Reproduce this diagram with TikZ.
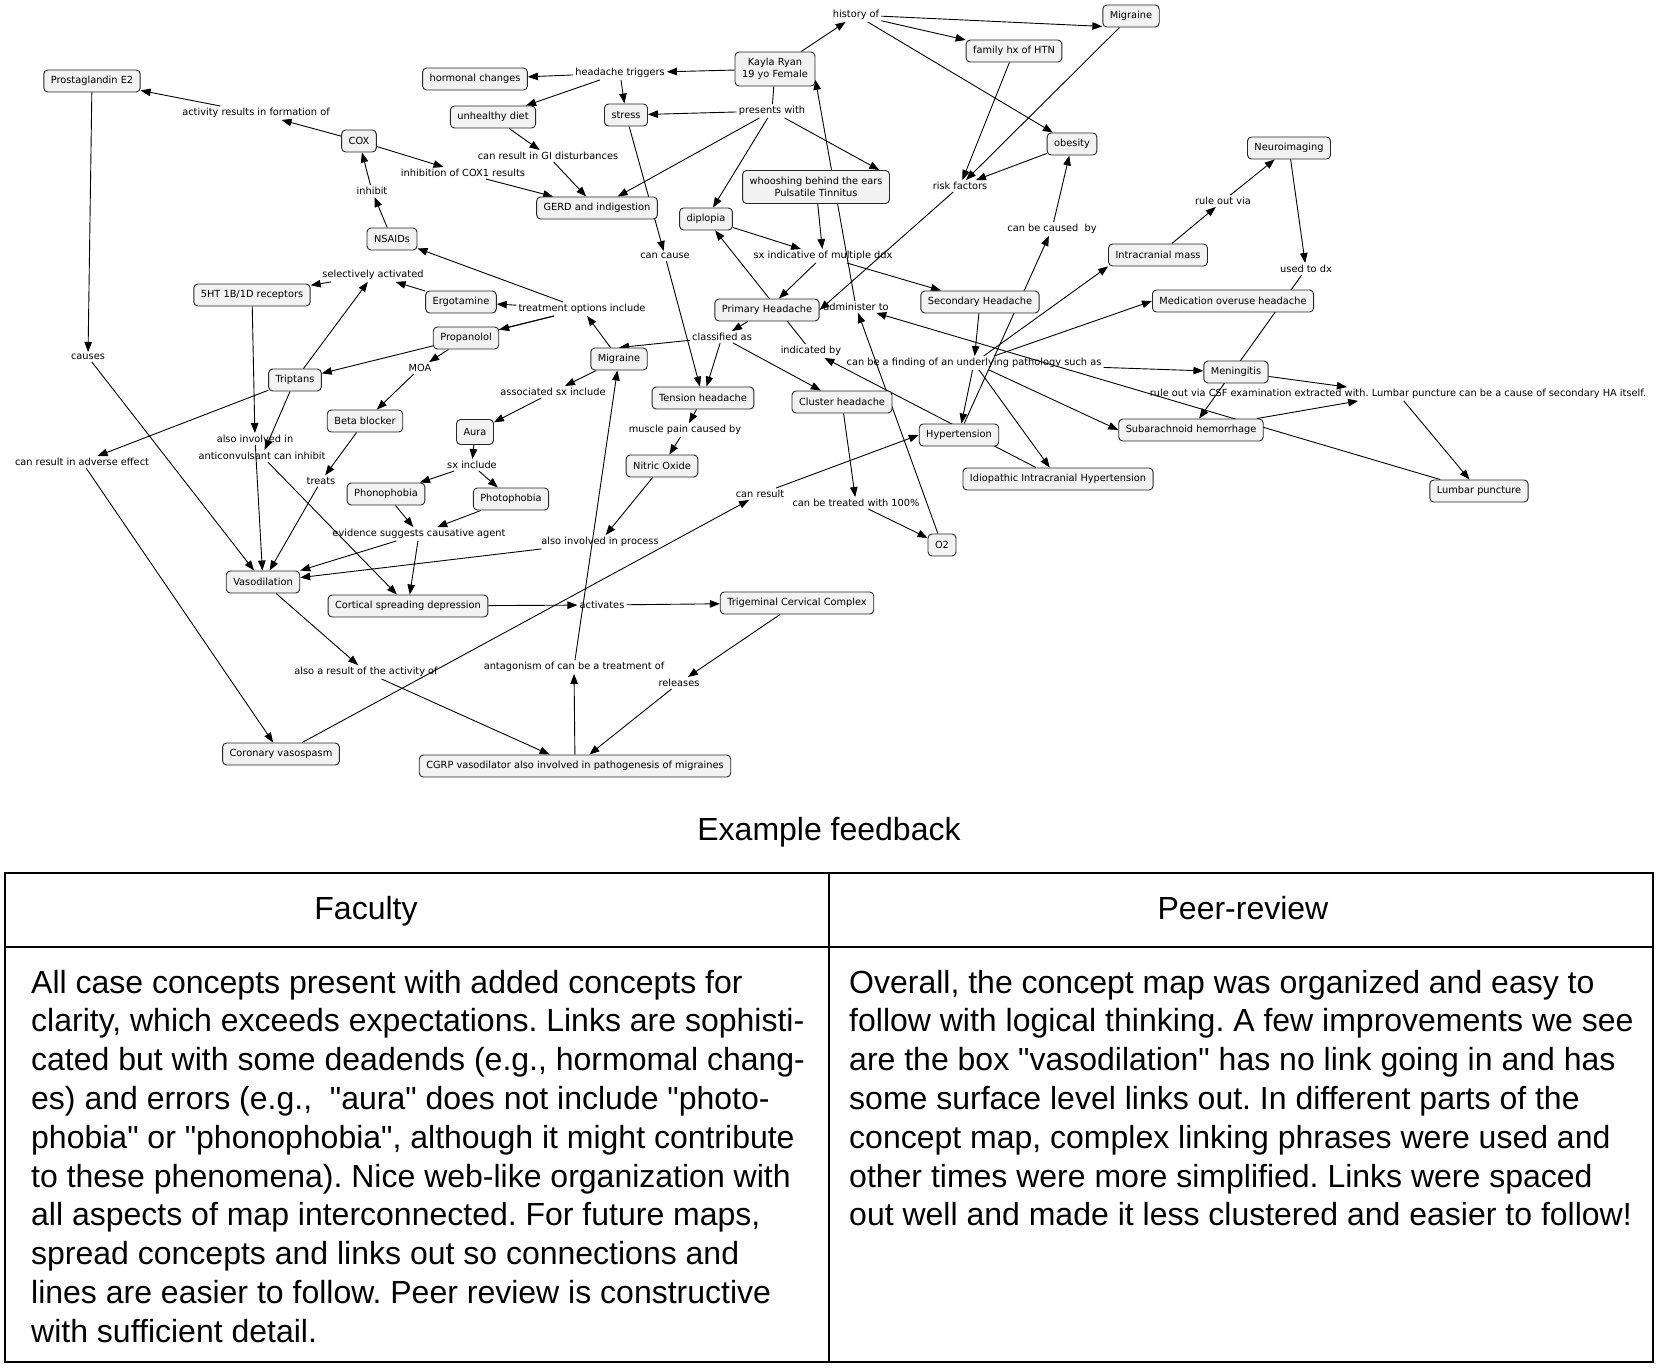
\documentclass[tikz,border=0pt]{standalone}
\usepackage{fontspec}
\setmainfont{Liberation Sans}[Ligatures=TeXOff]
\newfontfamily\mapfont{DejaVu Sans}
\usetikzlibrary{arrows.meta,backgrounds}
\frenchspacing

\tikzset{
  concept/.style={draw=black!85, fill=black!5, rounded corners=4pt, line width=0.9pt,
    inner xsep=7pt, inner ysep=0pt, minimum height=22pt, align=center,
    font=\mapfont\fontsize{9.8}{12.5}\selectfont},
  phrase/.style={inner sep=2pt, font=\mapfont\fontsize{9.8}{12.5}\selectfont},
  link/.style={-{Triangle[length=10pt,width=7.5pt]}, line width=0.9pt},
  plainlink/.style={line width=0.9pt},
  tabletext/.style={inner sep=0pt, font=\fontsize{32}{39}\selectfont}
}

\begin{document}
\begin{tikzpicture}[x=1pt,y=-1pt]
\useasboundingbox (0,0) rectangle (1660,1372);

  %Concepts
  \node[concept] (pge2) at (92,81) {Prostaglandin E2};
  \node[concept] (cox) at (359,141) {COX};
  \node[concept] (nsaids) at (392,239) {NSAIDs};
  \node[concept] (ht) at (252,295) {5HT 1B/1D receptors};
  \node[concept] (triptans) at (295,380) {Triptans};
  \node[concept] (ergot) at (461,302) {Ergotamine};
  \node[concept] (propan) at (466,338) {Propanolol};
  \node[concept] (beta) at (365,421) {Beta blocker};
  \node[concept] (hormonal) at (475,79) {hormonal changes};
  \node[concept] (diet) at (493,117) {unhealthy diet};
  \node[concept] (stress) at (626,115) {stress};
  \node[concept, minimum height=34pt] (kayla) at (775,69) {Kayla Ryan\\19 yo Female};
  \node[concept] (gerd) at (597,208) {GERD and indigestion};
  \node[concept, minimum height=33pt] (whoosh) at (816,187) {whooshing behind the ears\\Pulsatile Tinnitus};
  \node[concept] (diplopia) at (706,219) {diplopia};
  \node[concept] (migtop) at (1131,16) {Migraine};
  \node[concept] (famhx) at (1014,51) {family hx of HTN};
  \node[concept] (obesity) at (1072,144) {obesity};
  \node[concept] (primary) at (767,310) {Primary Headache};
  \node[concept] (secondary) at (980,302) {Secondary Headache};
  \node[concept] (migraine) at (619,359) {Migraine};
  \node[concept] (tension) at (703,398) {Tension headache};
  \node[concept] (cluster) at (842,402) {Cluster headache};
  \node[concept, minimum height=25pt] (aura) at (475,432) {Aura};
  \node[concept] (phono) at (386,494) {Phonophobia};
  \node[concept] (photo) at (511,499) {Photophobia};
  \node[concept] (nitric) at (662,466) {Nitric Oxide};
  \node[concept] (vaso) at (263,582) {Vasodilation};
  \node[concept] (csd) at (408,606) {Cortical spreading depression};
  \node[concept] (tcc) at (797,603) {Trigeminal Cervical Complex};
  \node[concept] (cgrp) at (575,766) {CGRP vasodilator also involved in pathogenesis of migraines};
  \node[concept] (coronary) at (281,754) {Coronary vasospasm};
  \node[concept] (o2) at (942,545) {O2};
  \node[concept] (hyper) at (959,435) {Hypertension};
  \node[concept] (iih) at (1058,479) {Idiopathic Intracranial Hypertension};
  \node[concept] (mass) at (1158,255) {Intracranial mass};
  \node[concept] (neuro) at (1289,148) {Neuroimaging};
  \node[concept] (moh) at (1233,301) {Medication overuse headache};
  \node[concept] (mening) at (1236,372) {Meningitis};
  \node[concept] (sah) at (1191,430) {Subarachnoid hemorrhage};
  \node[concept] (lumbar) at (1479,491) {Lumbar puncture};

  %Linking phrases
  \node[phrase] (lhistory) at (856,15) {history of};
  \node[phrase] (lrisk) at (960,186) {risk factors};
  \node[phrase] (ltriggers) at (620,73) {headache triggers};
  \node[phrase] (lpresents) at (772,111) {presents with};
  \node[phrase] (lgi) at (548,156) {can result in GI disturbances};
  \node[phrase] (lcoxone) at (463,173) {inhibition of COX1 results};
  \node[phrase] (lactivity) at (256,113) {activity results in formation of};
  \node[phrase] (linhibit) at (372,191) {inhibit};
  \node[phrase] (lcauses) at (88,357) {causes};
  \node[phrase] (lselective) at (373,275) {selectively activated};
  \node[phrase] (ltreatment) at (582,309) {treatment options include};
  \node[phrase] (lmoa) at (420,368) {MOA};
  \node[phrase] (ltreats) at (321,481) {treats};
  \node[phrase] (lalsoin) at (255,439) {also involved in};
  \node[phrase] (lanticonv) at (262,456) {anticonvulsant can inhibit};
  \node[phrase] (ladverse) at (82,462) {can result in adverse effect};
  \node[phrase] (lassoc) at (553,392) {associated sx include};
  \node[phrase] (lsxinc) at (472,465) {sx include};
  \node[phrase] (levidence) at (419,534) {evidence suggests causative agent};
  \node[phrase] (lprocess) at (600,542) {also involved in process};
  \node[phrase] (lmuscle) at (685,430) {muscle pain caused by};
  \node[phrase] (lactivates) at (602,605) {activates};
  \node[phrase] (lreleases) at (679,683) {releases};
  \node[phrase] (lantag) at (574,667) {antagonism of can be a treatment of};
  \node[phrase] (lresultact) at (366,672) {also a result of the activity of};
  \node[phrase] (lcanresult) at (760,494) {can result};
  \node[phrase] (ltreated) at (856,503) {can be treated with 100\%};
  \node[phrase] (lcancause) at (665,256) {can cause};
  \node[phrase] (lsxind) at (823,256) {sx indicative of multiple ddx};
  \node[phrase] (lclassified) at (722,337) {classified as};
  \node[phrase] (lindicated) at (811,351) {indicated by};
  \node[phrase] (ladmin) at (856,307) {administer to};
  \node[phrase] (lcaused) at (1052,229) {can be caused\ \ by};
  \node[phrase] (lfinding) at (974,363) {can be a finding of an underlying pathology such as};
  \node[phrase] (lruleout) at (1223,201) {rule out via};
  \node[phrase] (lusedtodx) at (1306,269) {used to dx};
  \node[phrase] (lcsf) at (1398,394) {rule out via CSF examination extracted with. Lumbar puncture can be a cause of secondary HA itself.};

  %Links (under the boxes)
  \begin{scope}[on background layer]
    \foreach \a/\b in {kayla/lhistory, lhistory/famhx, lhistory/obesity,
      famhx/lrisk, migtop/lrisk, obesity/lrisk, kayla/ltriggers, ltriggers/hormonal,
      ltriggers/diet, ltriggers/stress, lpresents/stress, lpresents/gerd, lpresents/diplopia,
      lumbar/ladmin, whoosh/lsxind, diplopia/lsxind, lsxind/primary, lsxind/secondary,
      iih/lindicated, lindicated/diplopia, primary/lclassified, lclassified/tension,
      lclassified/cluster, stress/lcancause, lcancause/tension, diet/lgi, lgi/gerd,
      cox/lcoxone, lcoxone/gerd, cox/lactivity, lactivity/pge2, nsaids/linhibit, linhibit/cox,
      pge2/lcauses, lcauses/vaso, ltreatment/nsaids, ltreatment/ergot, ltreatment/propan,
      ltreatment/triptans, migraine/ltreatment, ergot/lselective, lselective/ht,
      triptans/lselective, propan/lmoa, lmoa/beta, beta/ltreats, ltreats/vaso, ht/lalsoin,
      lalsoin/vaso, triptans/lanticonv, lanticonv/csd, triptans/ladverse, ladverse/coronary,
      aura/lsxinc, lsxinc/phono, lsxinc/photo, migraine/lassoc, lassoc/aura, phono/levidence,
      photo/levidence, levidence/vaso, levidence/csd, nitric/lprocess, lprocess/vaso,
      tension/lmuscle, lmuscle/nitric, csd/lactivates, lactivates/tcc, tcc/lreleases,
      lreleases/cgrp, cgrp/lantag, lantag/migraine, vaso/lresultact, lresultact/cgrp,
      coronary/lcanresult, cluster/ltreated, ltreated/o2, secondary/lfinding, lfinding/mening,
      lfinding/hyper, lfinding/iih, hyper/lcaused, lcaused/obesity, mening/lcsf, sah/lcsf,
      lcsf/lumbar, mass/lruleout, lruleout/neuro, neuro/lusedtodx, lusedtodx/sah}
      \draw[link] (\a) -- (\b);
    \draw[plainlink] (kayla) -- (lpresents);
    \draw[link] (lhistory) -- (migtop.200);
    \draw[link] (lpresents) -- (whoosh.15);
    \draw[link] (ladmin) -- (kayla.-15);
    \draw[link] (o2) -- (ladmin);
    \draw[link] (lrisk) -- (primary.east);
    \draw[link] (lclassified) -- (migraine.north);
    \draw[link] (lcanresult) -- (hyper.west);
    \draw[link] (lfinding) -- (mass.south west);
    \draw[link] (lfinding) -- (moh.west);
    \draw[link] (lfinding) -- (sah.west);
  \end{scope}

  %Title and table
  \node[tabletext, anchor=base] (title) at (829,840) {Example feedback};
  \draw[line width=2.5pt] (4,873) -- (1654,873);
  \draw[line width=1.2pt] (5,947) -- (1653,947);
  \draw[line width=2.5pt] (4,1362) -- (1654,1362);
  \draw[line width=1.2pt] (5,873) -- (5,1362);
  \draw[line width=1.2pt] (829,873) -- (829,1362);
  \draw[line width=1.2pt] (1653,873) -- (1653,1362);
  \node[tabletext, anchor=base] (faculty) at (366,919) {Faculty};
  \node[tabletext, anchor=base] (peer) at (1243,919) {Peer-review};
  \foreach \t [count=\i] in {{All case concepts present with added concepts for},
      {clarity, which exceeds expectations. Links are sophisti-},
      {cated but with some deadends (e.g., hormomal chang-},
      {es) and errors (e.g.,\ \ "aura" does not include "photo-},
      {phobia" or "phonophobia", although it might contribute},
      {to these phenomena). Nice web-like organization with},
      {all aspects of map interconnected. For future maps,},
      {spread concepts and links out so connections and},
      {lines are easier to follow. Peer review is constructive},
      {with sufficient detail.}}
    \node[tabletext, anchor=base west] (fac\i) at (31,{993+38.8*(\i-1)}) {\t};
  \foreach \t [count=\i] in {{Overall, the concept map was organized and easy to},
      {follow with logical thinking. A few improvements we see},
      {are the box "vasodilation" has no link going in and has},
      {some surface level links out. In different parts of the},
      {concept map, complex linking phrases were used and},
      {other times were more simplified. Links were spaced},
      {out well and made it less clustered and easier to follow!}}
    \node[tabletext, anchor=base west] (rev\i) at (849,{993+38.8*(\i-1)}) {\t};

\end{tikzpicture}
\end{document}
